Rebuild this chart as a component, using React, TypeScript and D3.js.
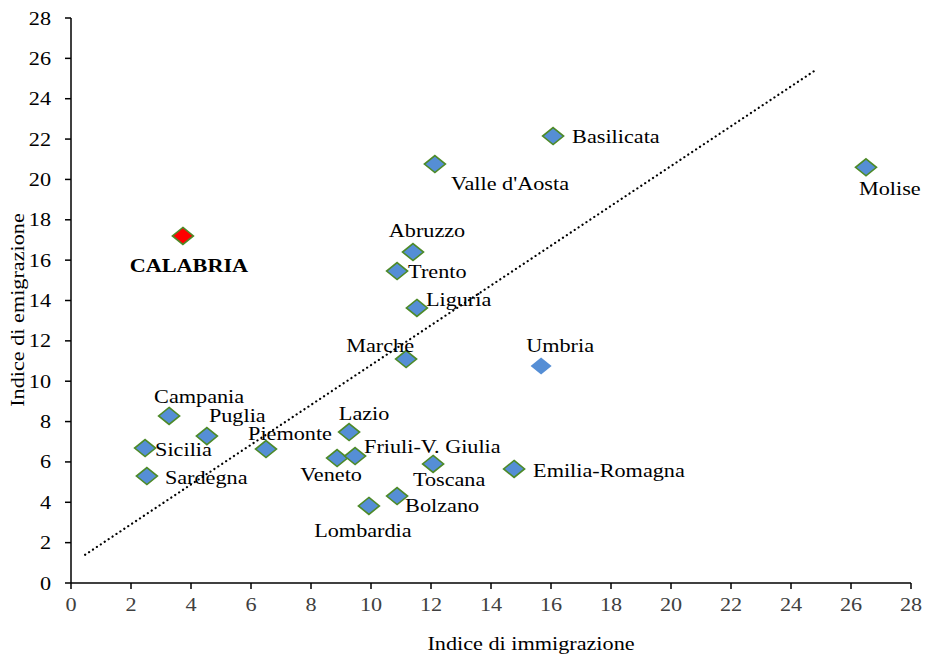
import React from "react";
import * as d3 from "d3";

const regions = ["Basilicata", "Valle d'Aosta", "Molise", "Abruzzo", "Trento", "Liguria", "Marche", "Umbria", "Campania", "Puglia", "Sicilia", "Sardegna", "Piemonte", "Lazio", "Veneto", "Friuli-V. Giulia", "Toscana", "Emilia-Romagna", "Bolzano", "Lombardia", "CALABRIA"];
const immigrazione = [16.07, 12.13, 26.5, 11.4, 10.87, 11.53, 11.17, 15.67, 3.27, 4.53, 2.47, 2.53, 6.5, 9.27, 8.87, 9.47, 12.07, 14.77, 10.87, 9.93, 3.73];
const emigrazione = [22.15, 20.76, 20.6, 16.4, 15.46, 13.63, 11.1, 10.75, 8.28, 7.28, 6.69, 5.3, 6.64, 7.48, 6.19, 6.29, 5.9, 5.65, 4.31, 3.82, 17.2];
const trendX = [0.47, 24.8];
const trendY = [1.4, 25.4];
const xTicks = d3.range(0, 29, 2);
const yTicks = d3.range(0, 29, 2);

// label layout: [dx, dy, anchor]
const labelLayout: Record<string, [number, number, string]> = {
  "Basilicata": [19, 7, "start"],
  "Valle d'Aosta": [16, 26, "start"],
  "Molise": [-7, 28, "start"],
  "Abruzzo": [14, -15, "middle"],
  "Trento": [11, 7, "start"],
  "Liguria": [9, -2, "start"],
  "Marche": [-26, -7, "middle"],
  "Umbria": [19, -14, "middle"],
  "Campania": [30, -13, "middle"],
  "Puglia": [2, -14, "start"],
  "Sicilia": [10, 8, "start"],
  "Sardegna": [18, 8, "start"],
  "Piemonte": [24, -9, "middle"],
  "Lazio": [15, -12, "middle"],
  "Veneto": [-6, 23, "middle"],
  "Friuli-V. Giulia": [9, -3, "start"],
  "Toscana": [16, 22, "middle"],
  "Emilia-Romagna": [19, 8, "start"],
  "Bolzano": [8, 16, "start"],
  "Lombardia": [-6, 31, "middle"],
  "CALABRIA": [6, 36, "middle"],
};

const W = 928, H = 655;
const L = 71, R = 911, T = 18, B = 583;
const SX = 1.17;
const FONT = "'Liberation Serif', 'Times New Roman', serif";

export default function App() {
  const x = d3.scaleLinear().domain([0, 28]).range([L, R]);
  const y = d3.scaleLinear().domain([0, 28]).range([B, T]);
  const line = d3.line<number>().x((d, i) => x(trendX[i])).y((d, i) => y(trendY[i]));
  const diamond = "M0,-8.5L10.5,0L0,8.5L-10.5,0Z";

  const txt = (s: string, px: number, py: number, anchor: string, opts: any = {}) => (
    <text
      transform={`translate(${px},${py}) scale(${SX},1)`}
      textAnchor={anchor}
      fontFamily={FONT}
      fontSize={19}
      {...opts}
    >
      {s}
    </text>
  );

  return (
    <svg width={W} height={H} style={{ position: "absolute", left: 0, top: 0, background: "#fff" }}>
      <rect width={W} height={H} fill="#fff" />
      {/* axes */}
      <line x1={L} x2={L} y1={T} y2={B} stroke="#000" strokeWidth={1.5} />
      <line x1={L} x2={R} y1={B} y2={B} stroke="#000" strokeWidth={1.5} />
      {yTicks.map((t) => (
        <g key={"y" + t}>
          <line x1={L - 6} x2={L} y1={y(t)} y2={y(t)} stroke="#000" strokeWidth={1.5} />
          {txt(String(t), 51, y(t) + 6.5, "end", { fill: "#000" })}
        </g>
      ))}
      {xTicks.map((t) => (
        <g key={"x" + t}>
          <line x1={x(t)} x2={x(t)} y1={B} y2={B + 6} stroke="#000" strokeWidth={1.5} />
          {txt(String(t), x(t), 611, "middle", { fill: "#404040" })}
        </g>
      ))}
      {txt("Indice di immigrazione", 531, 650, "middle", { fill: "#000" })}
      <text
        transform={`translate(24,310) rotate(-90) scale(${SX},1)`}
        textAnchor="middle"
        fontFamily={FONT}
        fontSize={19}
        fill="#000"
      >
        Indice di emigrazione
      </text>
      {/* trend line */}
      <path
        d={line(trendX) || ""}
        fill="none"
        stroke="#000"
        strokeWidth={2.2}
        strokeDasharray="0.1 4.6"
        strokeLinecap="round"
      />
      {/* points */}
      {regions.map((r, i) => {
        const px = x(immigrazione[i]);
        const py = y(emigrazione[i]);
        const isCal = r === "CALABRIA";
        const isUmb = r === "Umbria";
        return (
          <path
            key={"p" + r}
            d={diamond}
            transform={`translate(${px},${py})`}
            fill={isCal ? "#FF0000" : "#558ED5"}
            stroke={isUmb ? "none" : "#4E8A28"}
            strokeWidth={1.6}
          />
        );
      })}
      {regions.map((r, i) => {
        const px = x(immigrazione[i]);
        const py = y(emigrazione[i]);
        const [dx, dy, anchor] = labelLayout[r];
        return (
          <g key={"l" + r}>
            {txt(r, px + dx, py + dy, anchor, {
              fill: "#000",
              fontWeight: r === "CALABRIA" ? "bold" : "normal",
            })}
          </g>
        );
      })}
    </svg>
  );
}
